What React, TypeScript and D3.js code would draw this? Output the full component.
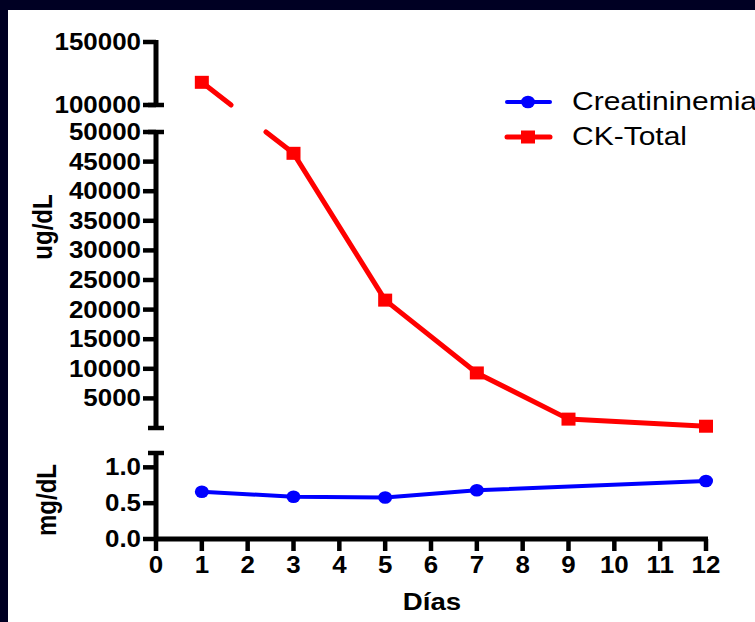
import React from 'react';
import * as d3 from 'd3';

// values
const creatDays = [1, 3, 5, 7, 12];
const creatValues = [0.66, 0.59, 0.58, 0.68, 0.81];
const ckDays = [1, 3, 5, 7, 9, 12];
const ckValues = [118000, 46400, 21600, 9300, 1500, 300];

const xTicks = [0, 1, 2, 3, 4, 5, 6, 7, 8, 9, 10, 11, 12];
const ckLowTicks = [5000, 10000, 15000, 20000, 25000, 30000, 35000, 40000, 45000, 50000];
const ckHighTicks = [100000, 150000];
const creatTicks = [0, 0.5, 1.0];
const seriesNames = ['Creatininemia', 'CK-Total'];

const W = 755;
const H = 622;
const font = '"Liberation Sans", Arial, Helvetica, sans-serif';
const BLUE = '#0000ff';
const RED = '#ff0000';

const x = d3.scaleLinear().domain([0, 12]).range([156, 706]);
const yLow = d3.scaleLinear().domain([0, 50000]).range([428, 132]);
const yHigh = d3.scaleLinear().domain([100000, 150000]).range([105, 42]);
const yCreat = d3.scaleLinear().domain([0, 1.2]).range([539, 453]);

// broken axis: pick the segment for the value
const yCk = (v: number) => (v >= 100000 ? yHigh(v) : yLow(v));
const gapTop = yHigh(100000);
const gapBottom = yLow(50000);

const axisX = x(0);

// split the CK line where it crosses the axis break
function ckSegments() {
  const pts = ckDays.map((d, i) => [x(d), yCk(ckValues[i])] as [number, number]);
  const segs: [number, number][][] = [];
  let cur: [number, number][] = [pts[0]];
  for (let i = 1; i < pts.length; i++) {
    const a = pts[i - 1];
    const b = pts[i];
    if (a[1] < gapTop && b[1] > gapBottom) {
      const t1 = (gapTop - a[1]) / (b[1] - a[1]);
      const t2 = (gapBottom - a[1]) / (b[1] - a[1]);
      cur.push([a[0] + (b[0] - a[0]) * t1, gapTop]);
      segs.push(cur);
      cur = [[a[0] + (b[0] - a[0]) * t2, gapBottom], b];
    } else {
      cur.push(b);
    }
  }
  segs.push(cur);
  return segs;
}

const line = d3.line<[number, number]>();
const creatLine = d3.line<number>()
  .x((d, i) => x(creatDays[i]))
  .y(d => yCreat(d));

const fmtCreat = d3.format('.1f');

function SText({x: tx, y: ty, sx = 1.08, anchor = 'end', size = 24, bold = true, children}: any) {
  return (
    <text
      transform={`translate(${tx},${ty}) scale(${sx},1)`}
      textAnchor={anchor}
      fontSize={size}
      fontWeight={bold ? 'bold' : 'normal'}
      fontFamily={font}
      fill="#000"
    >
      {children}
    </text>
  );
}

const App = () => {
  const segs = ckSegments();
  return (
    <div style={{position: 'fixed', left: 0, top: 0}}>
      <svg width={W} height={H}>
        <rect x={0} y={0} width={W} height={H} fill="#000023" />
        <rect x={8} y={10} width={W - 8} height={H - 10} fill="#fff" />

        <g stroke="#000" strokeWidth={4.5} fill="none">
          {/* upper segment */}
          <line x1={axisX} x2={axisX} y1={yHigh(150000) - 2} y2={yHigh(100000)} strokeWidth={5} />
          <line x1={axisX - 8} x2={axisX + 8} y1={yHigh(100000)} y2={yHigh(100000)} />
          {ckHighTicks.map(t => (
            <line key={t} x1={axisX - 13} x2={axisX} y1={yHigh(t)} y2={yHigh(t)} />
          ))}
          {/* lower segment */}
          <line x1={axisX} x2={axisX} y1={yLow(50000)} y2={yLow(0)} strokeWidth={5} />
          <line x1={axisX - 8} x2={axisX + 8} y1={yLow(50000)} y2={yLow(50000)} />
          <line x1={axisX - 8} x2={axisX + 8} y1={yLow(0)} y2={yLow(0)} />
          {ckLowTicks.map(t => (
            <line key={t} x1={axisX - 13} x2={axisX} y1={yLow(t)} y2={yLow(t)} />
          ))}
          {/* bottom panel */}
          <line x1={axisX} x2={axisX} y1={yCreat(1.2)} y2={yCreat(0)} strokeWidth={5} />
          <line x1={axisX - 8} x2={axisX + 8} y1={yCreat(1.2)} y2={yCreat(1.2)} />
          {creatTicks.map(t => (
            <line key={t} x1={axisX - 13} x2={axisX} y1={yCreat(t)} y2={yCreat(t)} />
          ))}
          <line x1={axisX - 2} x2={x(12) + 2} y1={yCreat(0)} y2={yCreat(0)} strokeWidth={5} />
          {xTicks.map(t => (
            <line key={t} x1={x(t)} x2={x(t)} y1={yCreat(0)} y2={yCreat(0) + 12} />
          ))}
        </g>

        {ckHighTicks.map(t => (
          <SText key={t} x={axisX - 15} y={yHigh(t) + 8}>{t}</SText>
        ))}
        {ckLowTicks.map(t => (
          <SText key={t} x={axisX - 15} y={yLow(t) + 8}>{t}</SText>
        ))}
        {creatTicks.map(t => (
          <SText key={t} x={axisX - 15} y={yCreat(t) + 8}>{fmtCreat(t)}</SText>
        ))}
        {xTicks.map(t => (
          <SText key={t} x={x(t)} y={573} anchor="middle">{t}</SText>
        ))}

        <SText x={432} y={610} anchor="middle" sx={1.15}>Días</SText>

        <text transform="translate(52,227) rotate(-90) scale(1,1.12)" textAnchor="middle" fontSize={24}
          fontWeight="bold" fontFamily={font}>ug/dL</text>
        <text transform="translate(56,500) rotate(-90) scale(1,1.12)" textAnchor="middle" fontSize={24}
          fontWeight="bold" fontFamily={font}>mg/dL</text>

        {/* CK-Total */}
        <g stroke={RED} strokeWidth={5} fill="none" strokeLinecap="round" strokeLinejoin="round">
          {segs.map((s, i) => <path key={i} d={line(s) || ''} />)}
        </g>
        {ckDays.map((d, i) => (
          <rect key={d} x={x(d) - 7} y={yCk(ckValues[i]) - 6.5} width={14} height={13} fill={RED} />
        ))}

        {/* Creatininemia */}
        <path d={creatLine(creatValues) || ''} stroke={BLUE} strokeWidth={4} fill="none"
          strokeLinejoin="round" />
        {creatDays.map((d, i) => (
          <ellipse key={d} cx={x(d)} cy={yCreat(creatValues[i])} rx={7} ry={6.3} fill={BLUE} />
        ))}

        {/* legend */}
        <g>
          <line x1={507} x2={550} y1={102} y2={102} stroke={BLUE} strokeWidth={4} strokeLinecap="round" />
          <ellipse cx={528} cy={102} rx={7} ry={6.3} fill={BLUE} />
          <SText x={572} y={110} anchor="start" size={25} bold={false} sx={1.2}>{seriesNames[0]}</SText>
          <line x1={507} x2={550} y1={137} y2={137} stroke={RED} strokeWidth={5} strokeLinecap="round" />
          <rect x={521} y={130.5} width={14} height={13} fill={RED} />
          <SText x={572} y={145} anchor="start" size={25} bold={false} sx={1.2}>{seriesNames[1]}</SText>
        </g>
      </svg>
    </div>
  );
};

export default App;
